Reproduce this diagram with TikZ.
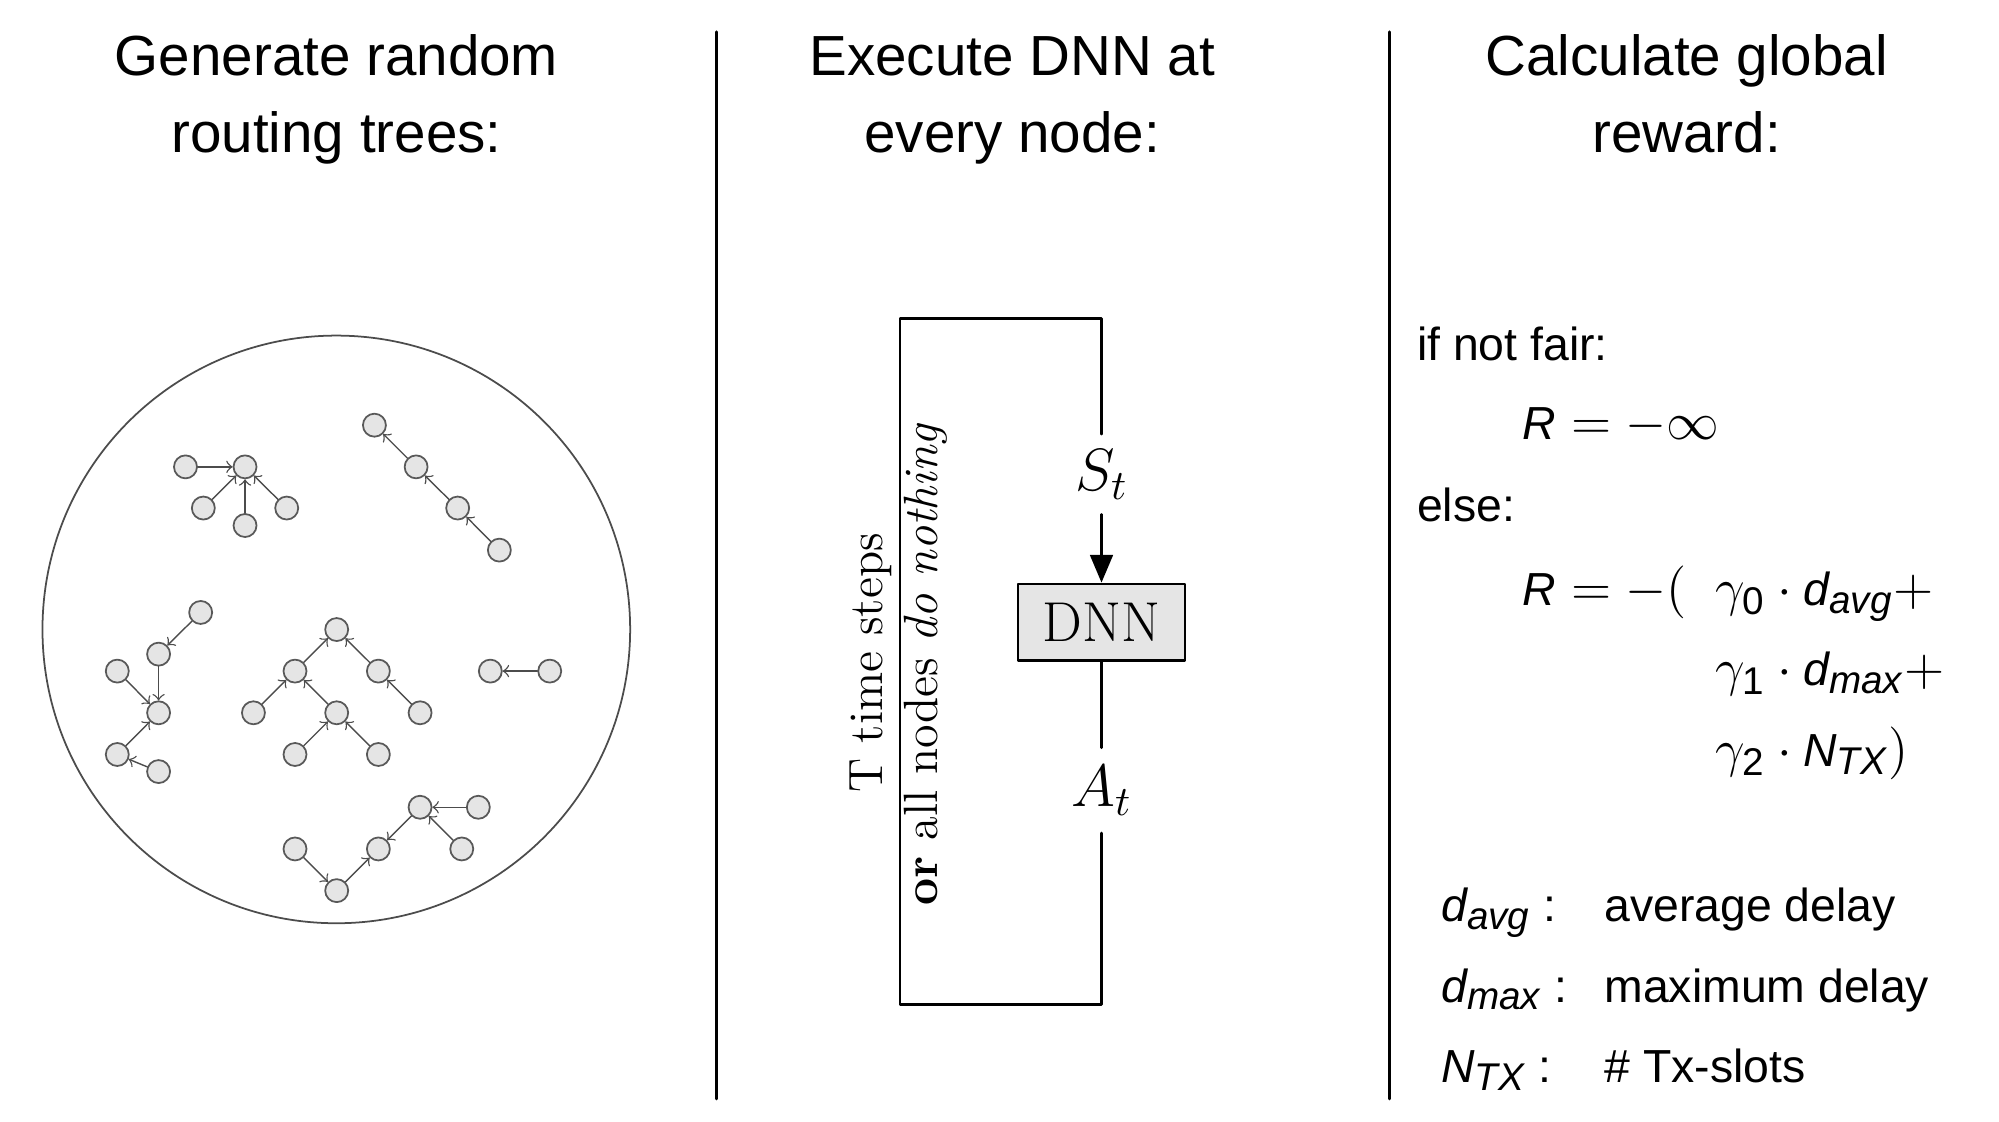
\RequirePackage{fix-cm}
\documentclass[tikz,border=0pt]{standalone}
\usepackage{amsmath}
\usepackage{fontspec}
\setsansfont{Liberation Sans}
\usetikzlibrary{arrows}

\DeclareMathSizes{13.2}{15}{11}{8}
\newcommand{\sv}[1]{\text{\itshape #1}}
\newcommand{\headfont}{\sffamily\fontsize{16.1}{22}\selectfont}
\newcommand{\bodyfont}{\sffamily\fontsize{13.2}{16}\selectfont}

\begin{document}
\begin{tikzpicture}[x=0.01275cm,y=-0.01275cm,line cap=round,line join=round,>=triangle 45,
    tnode/.style={circle,draw=black!65,fill=black!10,line width=0.5pt,minimum size=0.23cm,inner sep=0pt},
    tedge/.style={-to,draw=black!70,line width=0.4pt},
    head/.style={anchor=base,font=\headfont},
    txt/.style={anchor=base west,inner sep=0pt,font=\bodyfont},
    loopline/.style={line width=0.8pt},
    dnnbox/.style={draw,line width=0.8pt,fill=black!10,minimum width=1.67cm,minimum height=0.765cm,font=\fontsize{16}{19}\selectfont},
    vtext/.style={rotate=90,font=\fontsize{13.7}{16}\selectfont}]
    \useasboundingbox (0,0) rectangle (1568,880);

    % headings
    \node[head] (h1a) at (264,59) {Generate random};
    \node[head] (h1b) at (264,120) {routing trees:};
    \node[head] (h2a) at (794,59) {Execute DNN at};
    \node[head] (h2b) at (794,120) {every node:};
    \node[head] (h3a) at (1323,59) {Calculate global};
    \node[head] (h3b) at (1323,120) {reward:};
    \draw[line width=0.8pt] (562,25) -- (562,862);
    \draw[line width=0.8pt] (1090,25) -- (1090,862);

    % random trees
    \draw[black!70,line width=0.5pt] (263.8,493.7) circle (2.94cm);
    \foreach \n/\x/\y in {a0/145.5/366.2, a1/192.2/366.2, a2/159.5/398.5, a3/192.2/412.2, a4/224.9/398.5,
        b0/293.7/333.5, b1/326.4/366.2, b2/359.0/398.5, b3/391.7/431.5,
        c0/157.4/480.4, c1/124.4/513.1, c2/92.0/526.4, c3/124.4/559.1, c4/92.0/591.8, c5/124.4/605.2,
        d0/264.1/493.8, d1/231.4/526.4, d2/296.8/526.4, d3/198.8/559.1, d4/264.1/559.1,
        d5/329.5/559.1, d6/231.4/591.8, d7/296.8/591.8,
        e0/384.6/526.4, e1/431.2/526.4,
        f0/329.5/633.2, f1/375.2/633.2, f2/296.8/665.9, f3/362.2/665.9, f4/231.4/665.9, f5/264.1/698.6}
        \node[tnode] (\n) at (\x,\y) {};
    \foreach \s/\t in {a0/a1, a2/a1, a3/a1, a4/a1, b1/b0, b2/b1, b3/b2,
        c0/c1, c1/c3, c2/c3, c4/c3, c5/c4,
        d1/d0, d2/d0, d3/d1, d4/d1, d5/d2, d6/d4, d7/d4, e1/e0,
        f1/f0, f3/f0, f0/f2, f4/f5, f5/f2}
        \draw[tedge] (\s) -- (\t);

    % DNN loop
    \node[dnnbox] (dnn) at (864,488) {DNN};
    \node[minimum height=0.79cm,font=\fontsize{17}{20}\selectfont] (state) at (864,372) {$S_t$};
    \node[minimum height=0.84cm,font=\fontsize{17}{20}\selectfont] (act) at (864,620) {$A_t$};
    \coordinate (tr) at (864,250);
    \coordinate (tl) at (706,250);
    \coordinate (bl) at (706,788);
    \coordinate (br) at (864,788);
    \draw[loopline] (state) -- (tr) -- (tl) -- (bl) -- (br) -- (act);
    \draw[loopline,->] (state) -- (dnn);
    \draw[loopline] (dnn) -- (act);
    \node[vtext] (tsteps) at (683,520) {T time steps};
    \node[vtext] (nothing) at (726,521) {\textbf{or} all nodes \textit{do nothing}};

    % reward
    \node[txt] (fair) at (1111,283) {if not fair:};
    \node[txt] (rinf) at (1194,345) {$\sv{R} = -\infty$};
    \node[txt] (else) at (1111,409) {else:};
    \node[txt] (req) at (1194,475) {$\sv{R} = -($};
    \node[txt] (g0) at (1345,475) {$\gamma_{\text{0}} \cdot \sv{d}_{\sv{avg}}+$};
    \node[txt] (g1) at (1345,538) {$\gamma_{\text{1}} \cdot \sv{d}_{\sv{max}}+$};
    \node[txt] (g2) at (1345,601) {$\gamma_{\text{2}} \cdot \sv{N}_{\sv{TX}})$};
    \node[txt] (lavg) at (1130,723) {$\sv{d}_{\sv{avg}}$\hspace{3.5pt}:};
    \node[txt] (lmax) at (1130,786) {$\sv{d}_{\sv{max}}$\hspace{3.5pt}:};
    \node[txt] (ltx) at (1130,849) {$\sv{N}_{\sv{TX}}$\hspace{3.5pt}:};
    \node[txt] (davg) at (1258,723) {average delay};
    \node[txt] (dmax) at (1258,786) {maximum delay};
    \node[txt] (dtx) at (1258,849) {\# Tx-slots};
\end{tikzpicture}
\end{document}
